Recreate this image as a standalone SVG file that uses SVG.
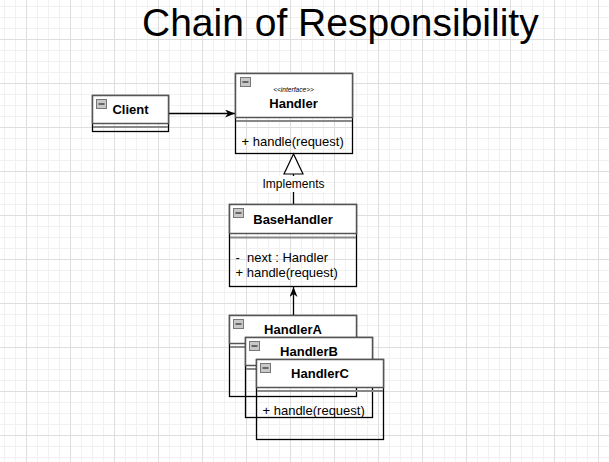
<svg xmlns="http://www.w3.org/2000/svg" width="609" height="462" viewBox="0 0 609 462">
<defs>
<pattern id="grid" x="26" y="39" width="44" height="44" patternUnits="userSpaceOnUse">
<rect x="11" y="0" width="1" height="44" fill="#f1f1f1"/>
<rect x="22" y="0" width="1" height="44" fill="#f1f1f1"/>
<rect x="33" y="0" width="1" height="44" fill="#f1f1f1"/>
<rect x="0" y="11" width="44" height="1" fill="#f1f1f1"/>
<rect x="0" y="22" width="44" height="1" fill="#f1f1f1"/>
<rect x="0" y="33" width="44" height="1" fill="#f1f1f1"/>
<rect x="0" y="0" width="1" height="44" fill="#dedede"/>
<rect x="0" y="0" width="44" height="1" fill="#dedede"/>
</pattern>
<marker id="arr" viewBox="0 0 10 8" refX="10" refY="4" markerWidth="10" markerHeight="8" markerUnits="userSpaceOnUse" orient="auto">
<path d="M0,0 L10,4 L0,8 L3,4 z" fill="#000"/>
</marker>
<g id="icon">
<rect x="0" y="0" width="10" height="9" fill="#c8c8c8" stroke="#777" stroke-width="1"/>
<rect x="2" y="3.5" width="6" height="2" fill="#666"/>
</g>
</defs>
<style>
.body{fill:none;stroke:#000;stroke-width:1.3}
.head{fill:#fff;stroke:#555;stroke-width:1.5}
.sep{stroke:#888;stroke-width:2}
.title{font-family:"Liberation Sans",Arial,sans-serif;font-size:39px;fill:#000}
.name{font-family:"Liberation Sans",Arial,sans-serif;font-size:13px;font-weight:bold;fill:#000;text-anchor:middle}
.member{font-family:"Liberation Sans",Arial,sans-serif;font-size:13px;fill:#000}
.stereo{font-family:"Liberation Sans",Arial,sans-serif;font-size:6.6px;font-style:italic;fill:#000;text-anchor:middle}
.lbl{font-family:"Liberation Sans",Arial,sans-serif;font-size:12px;fill:#000;text-anchor:middle}
.edge{fill:none;stroke:#000;stroke-width:1.3}
</style>
<rect x="0" y="0" width="609" height="462" fill="#fff"/>
<rect x="0" y="0" width="609" height="462" fill="url(#grid)"/>

<text class="title" x="142" y="36">Chain of Responsibility</text>

<g id="connectors">
<line class="edge" x1="169" y1="113.5" x2="235" y2="113.5" marker-end="url(#arr)"/>
<line class="edge" x1="293.5" y1="204" x2="293.5" y2="174"/>
<polygon points="293.5,154 284,174 303,174" fill="#fff" stroke="#000" stroke-width="1.2"/>
<rect x="261" y="176" width="65" height="16" fill="#fff"/>
<text class="lbl" x="293.5" y="188">Implements</text>
<line class="edge" x1="293.5" y1="315" x2="293.5" y2="287" marker-end="url(#arr)"/>
</g>

<g id="client">
<rect class="body" x="92.5" y="95.5" width="76" height="36"/>
<rect class="head" x="92.5" y="95.5" width="76" height="28"/>
<line class="sep" x1="93" y1="127" x2="168" y2="127"/>
<use href="#icon" x="96.5" y="99.5"/>
<text class="name" x="130.5" y="114">Client</text>
</g>

<g id="handler">
<rect class="body" x="235.5" y="73.5" width="117" height="80"/>
<rect class="head" x="235.5" y="73.5" width="117" height="44"/>
<line class="sep" x1="236" y1="121" x2="352" y2="121"/>
<use href="#icon" x="240.5" y="77.5"/>
<text class="stereo" x="293.5" y="91.5">&lt;&lt;interface&gt;&gt;</text>
<text class="name" x="293.5" y="108">Handler</text>
<text class="member" x="241.5" y="146">+ handle(request)</text>
</g>

<g id="basehandler">
<rect class="body" x="229.5" y="204.5" width="127" height="82"/>
<rect class="head" x="229.5" y="204.5" width="127" height="29"/>
<line class="sep" x1="230" y1="237.5" x2="356" y2="237.5"/>
<use href="#icon" x="233.5" y="208.5"/>
<text class="name" x="293" y="224">BaseHandler</text>
<text class="member" x="235.5" y="262" xml:space="preserve">-  next : Handler</text>
<text class="member" x="235.5" y="277">+ handle(request)</text>
</g>

<g id="handlerA">
<rect class="body" x="229.5" y="315.5" width="127" height="81"/>
<rect class="head" x="229.5" y="315.5" width="127" height="28"/>
<line class="sep" x1="230" y1="347" x2="356" y2="347"/>
<use href="#icon" x="233.5" y="319.5"/>
<text class="name" x="293" y="334">HandlerA</text>
</g>

<g id="handlerB">
<rect class="body" x="245.5" y="337.5" width="127" height="80"/>
<rect class="head" x="245.5" y="337.5" width="127" height="28"/>
<line class="sep" x1="246" y1="369" x2="372" y2="369"/>
<use href="#icon" x="249.5" y="341.5"/>
<text class="name" x="309" y="356">HandlerB</text>
</g>

<g id="handlerC">
<rect class="body" x="256.5" y="359.5" width="127" height="80"/>
<rect class="head" x="256.5" y="359.5" width="127" height="28"/>
<line class="sep" x1="257" y1="391" x2="383" y2="391"/>
<use href="#icon" x="260.5" y="363.5"/>
<text class="name" x="320" y="378">HandlerC</text>
<text class="member" x="262.5" y="415">+ handle(request)</text>
</g>
</svg>
